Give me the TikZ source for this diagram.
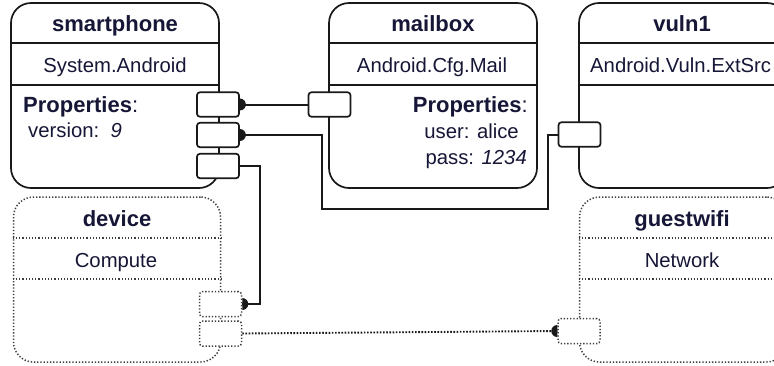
\documentclass[tikz,border=0pt]{standalone}
\usepackage{fontspec}
\setmainfont{Liberation Sans}
\definecolor{txt}{RGB}{22,22,55}
\definecolor{ln}{RGB}{25,25,25}
\definecolor{dotc}{RGB}{60,60,60}
\begin{document}
\begin{tikzpicture}[x=1pt,y=-1pt,
  box/.style={draw=ln,line width=1.7pt,fill=white,rounded corners=20pt,minimum width=208pt,minimum height=185pt,inner sep=0pt},
  dbox/.style={draw=dotc,line width=1.5pt,dash pattern=on 1.3pt off 1.9pt,fill=white,rounded corners=20pt,minimum width=207pt,minimum height=165pt,inner sep=0pt},
  port/.style={draw=ln,line width=1.7pt,fill=white,rounded corners=3pt,minimum width=42pt,minimum height=24.5pt,inner sep=0pt},
  dport/.style={draw=dotc,line width=1.5pt,dash pattern=on 1.3pt off 1.9pt,fill=white,rounded corners=3pt,minimum width=42pt,minimum height=25pt,inner sep=0pt},
  divs/.style={draw=ln,line width=1.5pt},
  ddivs/.style={draw=dotc,line width=1.5pt,dash pattern=on 1.3pt off 1.9pt},
  conn/.style={draw=ln,line width=2pt},
  dconn/.style={draw=ln,line width=1.9pt,dash pattern=on 1.6pt off 1.6pt},
  ttl/.style={font=\fontsize{22}{24}\selectfont\bfseries,text=txt,inner sep=0pt,anchor=base},
  sub/.style={font=\fontsize{20.3}{24}\selectfont,text=txt,inner sep=0pt,anchor=base},
  prop/.style={font=\fontsize{20.3}{24}\selectfont,text=txt,inner sep=0pt},
]
\useasboundingbox (0,0) rectangle (774,365);
\clip (0,0) rectangle (774,365);
\fill[white] (0,0) rectangle (774,365);

% boxes
\node[box] (smartphone) at (115,95.5) {};
\node[box] (mailbox) at (433,95.5) {};
\node[box] (vuln1) at (683,95.5) {};
\node[dbox] (device) at (117,279.5) {};
\node[dbox] (guestwifi) at (683,279.5) {};

% dividers
\foreach \b in {smartphone,mailbox,vuln1}{
  \draw[divs] (\b.west |- 0,43) -- (\b.east |- 0,43);
  \draw[divs] (\b.west |- 0,85) -- (\b.east |- 0,85);
}
\foreach \b in {device,guestwifi}{
  \draw[ddivs] (\b.west |- 0,238) -- (\b.east |- 0,238);
  \draw[ddivs] (\b.west |- 0,279) -- (\b.east |- 0,279);
}

% ports
\node[port] (sp1) at (218,104.5) {};
\node[port] (sp2) at (218,135) {};
\node[port] (sp3) at (218,166) {};
\node[port] (mb1) at (329.5,104.5) {};
\node[port] (v1) at (579.5,134.5) {};
\node[dport] (d1) at (220.5,304) {};
\node[dport] (d2) at (220.5,333.5) {};
\node[dport] (g1) at (579,331) {};

% connectors
\coordinate (j1) at (322,209);
\coordinate (j2) at (548,209);
\coordinate (j3) at (260,166);
\draw[conn] (sp1.east) -- (mb1.west);
\draw[conn] (sp2.east) -| (j1) -- (j2) |- (v1.west);
\draw[conn] (sp3.east) -- (j3) |- (d1.east);
\draw[dconn] (d2.east) -- (g1.west);

% half-disk marks
\fill[ln] (sp1.east) ++(0,-6) arc (-90:90:6) -- cycle;
\fill[ln] (sp2.east) ++(0,-6) arc (-90:90:6) -- cycle;
\fill[ln] (d1.east) ++(0,-6) arc (-90:90:6) -- cycle;
\fill[ln] (g1.west) ++(0,6) arc (90:270:6) -- cycle;

% texts
\node[ttl] (t1) at (115,31) {smartphone};
\node[sub] (s1) at (115,72.5) {System.Android};
\node[prop,anchor=base west] (p1) at (23,112) {\fontsize{22}{24}\selectfont\textbf{Properties}:};
\node[prop,anchor=base west] (p2) at (28,137) {version:\ \ \textit{9}};

\node[ttl] (t2) at (433,31) {mailbox};
\node[sub] (s2) at (432,72.5) {Android.Cfg.Mail};
\node[prop,anchor=base east] (p3) at (528,112) {\fontsize{22}{24}\selectfont\textbf{Properties}:};
\node[prop,anchor=base east] (p4) at (519,138) {user: alice};
\node[prop,anchor=base east] (p5) at (527,164) {pass: \textit{1234}};

\node[ttl] (t3) at (682,31) {vuln1};
\node[sub,anchor=base west] (s3) at (590,72.5) {Android.Vuln.ExtSrc};

\node[ttl] (t4) at (117,226) {device};
\node[sub] (s4) at (116,267) {Compute};

\node[ttl] (t5) at (682,226) {guestwifi};
\node[sub] (s5) at (682,267) {Network};
\end{tikzpicture}
\end{document}
